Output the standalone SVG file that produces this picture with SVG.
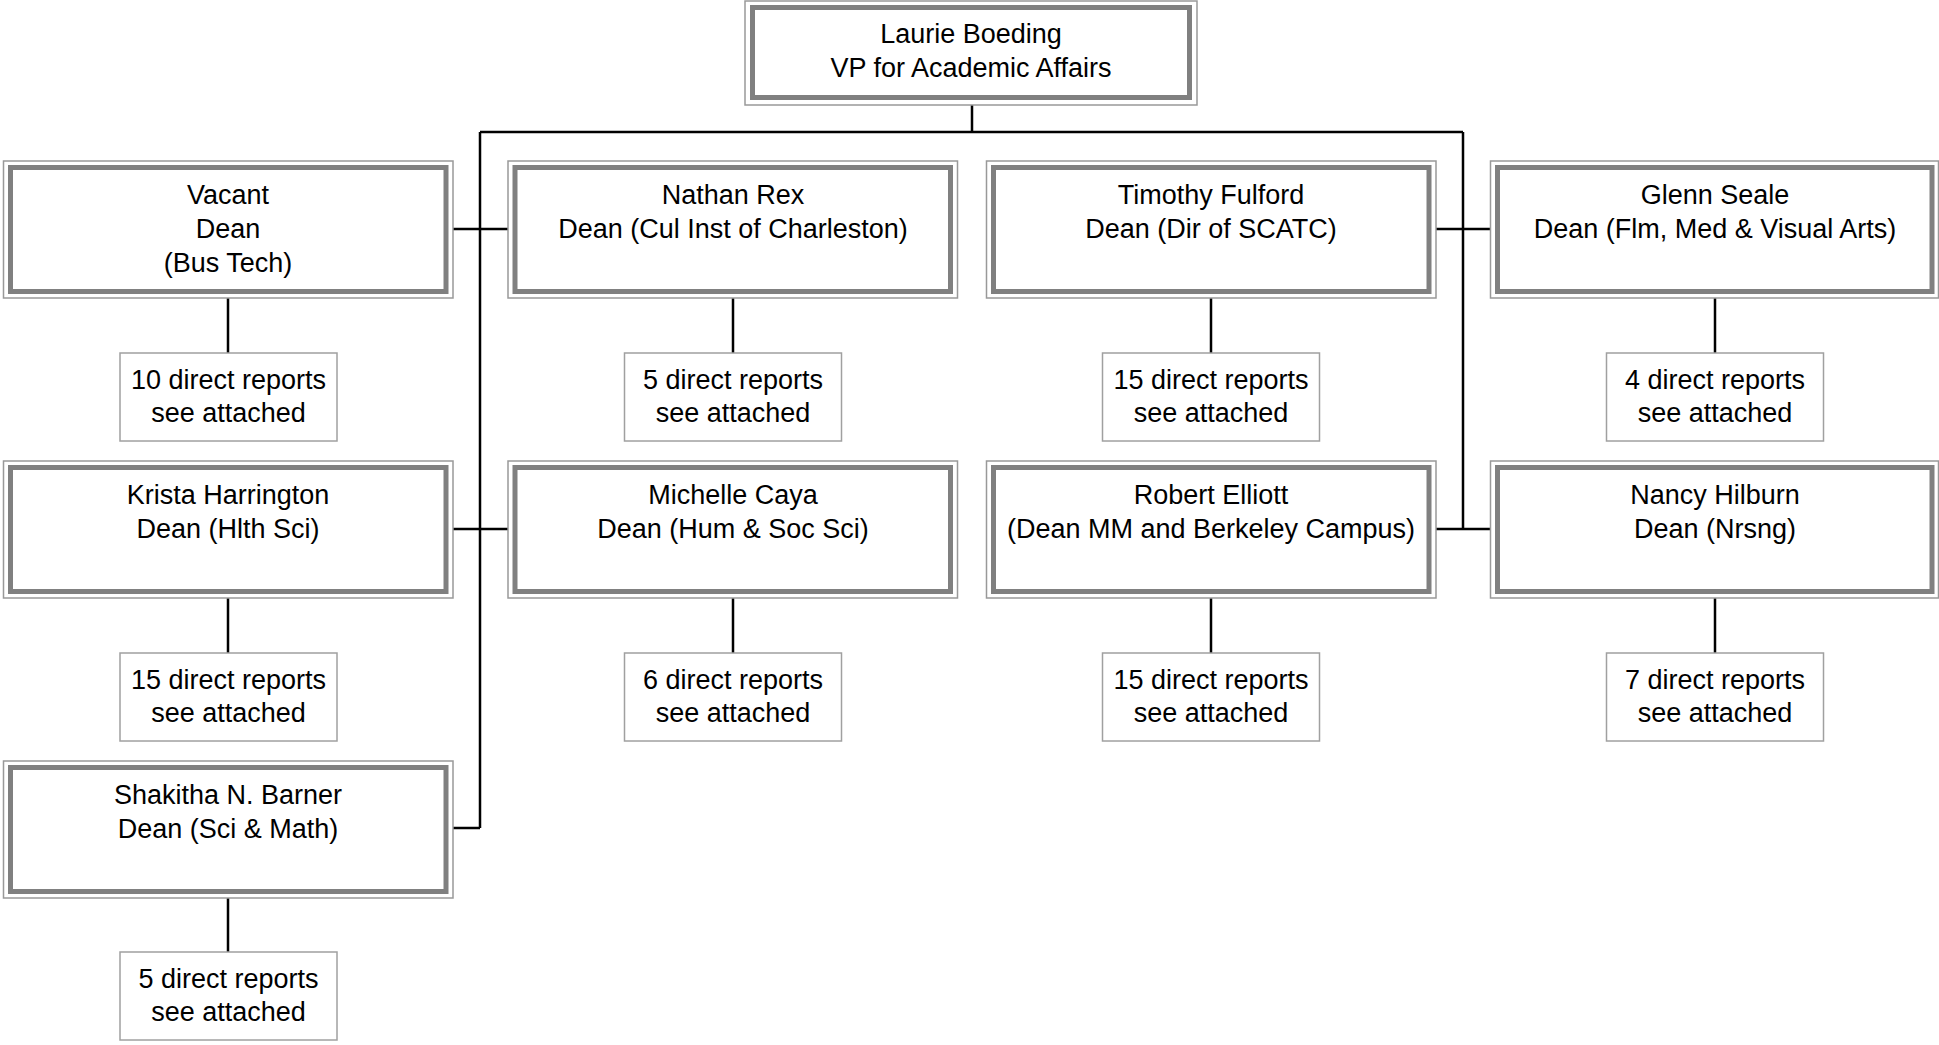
<svg xmlns="http://www.w3.org/2000/svg" width="1939" height="1045" viewBox="0 0 1939 1045">
<style>
.o{fill:#fff;stroke:#999;stroke-width:1.5}
.i{fill:none;stroke:#808080;stroke-width:5}
.s{fill:#fff;stroke:#a0a0a0;stroke-width:1.5}
text{font-family:"Liberation Sans",Arial,sans-serif;font-size:27px;fill:#000;text-anchor:middle}
.c{stroke:#000;stroke-width:2.5;fill:none}
</style>
<rect width="1939" height="1045" fill="#fff"/>
<g id="connectors">
<path class="c" d="M972 104V132M480 132H1463M480 132V828M453 229H508M453 529H508M453 828H480M1463 132V529M1436 229H1490M1436 529H1490"/>
<path class="c" d="M228 298V353M733 298V353M1211 298V353M1715 298V353M228 598V653M733 598V653M1211 598V653M1715 598V653M228 898V952"/>
</g>
<g id="vp">
<rect class="o" x="745" y="1" width="452" height="104"/>
<rect class="i" x="752.5" y="7.5" width="437" height="90"/>
<text x="971" y="43">Laurie Boeding</text>
<text x="971" y="77">VP for Academic Affairs</text>
</g>
<g id="vacant">
<rect class="o" x="3.5" y="161" width="449.5" height="137"/>
<rect class="i" x="10.5" y="167.5" width="435.5" height="124"/>
<text x="228" y="204">Vacant</text>
<text x="228" y="238">Dean</text>
<text x="228" y="272">(Bus Tech)</text>
</g>
<g id="vacant-reports">
<rect class="s" x="120" y="353" width="217" height="88"/>
<text x="228.5" y="389">10 direct reports</text>
<text x="228.5" y="422">see attached</text>
</g>
<g id="rex">
<rect class="o" x="508" y="161" width="449.5" height="137"/>
<rect class="i" x="515" y="167.5" width="435.5" height="124"/>
<text x="733" y="204">Nathan Rex</text>
<text x="733" y="238">Dean (Cul Inst of Charleston)</text>
</g>
<g id="rex-reports">
<rect class="s" x="624.5" y="353" width="217" height="88"/>
<text x="733" y="389">5 direct reports</text>
<text x="733" y="422">see attached</text>
</g>
<g id="fulford">
<rect class="o" x="986.5" y="161" width="449.5" height="137"/>
<rect class="i" x="993.5" y="167.5" width="435.5" height="124"/>
<text x="1211" y="204">Timothy Fulford</text>
<text x="1211" y="238">Dean (Dir of SCATC)</text>
</g>
<g id="fulford-reports">
<rect class="s" x="1102.5" y="353" width="217" height="88"/>
<text x="1211" y="389">15 direct reports</text>
<text x="1211" y="422">see attached</text>
</g>
<g id="seale">
<rect class="o" x="1490.5" y="161" width="448" height="137"/>
<rect class="i" x="1497.5" y="167.5" width="434.5" height="124"/>
<text x="1715" y="204">Glenn Seale</text>
<text x="1715" y="238">Dean (Flm, Med &amp; Visual Arts)</text>
</g>
<g id="seale-reports">
<rect class="s" x="1606.5" y="353" width="217" height="88"/>
<text x="1715" y="389">4 direct reports</text>
<text x="1715" y="422">see attached</text>
</g>
<g id="harrington">
<rect class="o" x="3.5" y="461" width="449.5" height="137"/>
<rect class="i" x="10.5" y="467.5" width="435.5" height="124"/>
<text x="228" y="504">Krista Harrington</text>
<text x="228" y="538">Dean (Hlth Sci)</text>
</g>
<g id="harrington-reports">
<rect class="s" x="120" y="653" width="217" height="88"/>
<text x="228.5" y="689">15 direct reports</text>
<text x="228.5" y="722">see attached</text>
</g>
<g id="caya">
<rect class="o" x="508" y="461" width="449.5" height="137"/>
<rect class="i" x="515" y="467.5" width="435.5" height="124"/>
<text x="733" y="504">Michelle Caya</text>
<text x="733" y="538">Dean (Hum &amp; Soc Sci)</text>
</g>
<g id="caya-reports">
<rect class="s" x="624.5" y="653" width="217" height="88"/>
<text x="733" y="689">6 direct reports</text>
<text x="733" y="722">see attached</text>
</g>
<g id="elliott">
<rect class="o" x="986.5" y="461" width="449.5" height="137"/>
<rect class="i" x="993.5" y="467.5" width="435.5" height="124"/>
<text x="1211" y="504">Robert Elliott</text>
<text x="1211" y="538">(Dean MM and Berkeley Campus)</text>
</g>
<g id="elliott-reports">
<rect class="s" x="1102.5" y="653" width="217" height="88"/>
<text x="1211" y="689">15 direct reports</text>
<text x="1211" y="722">see attached</text>
</g>
<g id="hilburn">
<rect class="o" x="1490.5" y="461" width="448" height="137"/>
<rect class="i" x="1497.5" y="467.5" width="434.5" height="124"/>
<text x="1715" y="504">Nancy Hilburn</text>
<text x="1715" y="538">Dean (Nrsng)</text>
</g>
<g id="hilburn-reports">
<rect class="s" x="1606.5" y="653" width="217" height="88"/>
<text x="1715" y="689">7 direct reports</text>
<text x="1715" y="722">see attached</text>
</g>
<g id="barner">
<rect class="o" x="3.5" y="761" width="449.5" height="137"/>
<rect class="i" x="10.5" y="767.5" width="435.5" height="124"/>
<text x="228" y="804">Shakitha N. Barner</text>
<text x="228" y="838">Dean (Sci &amp; Math)</text>
</g>
<g id="barner-reports">
<rect class="s" x="120" y="952" width="217" height="88"/>
<text x="228.5" y="988">5 direct reports</text>
<text x="228.5" y="1021">see attached</text>
</g>
</svg>
